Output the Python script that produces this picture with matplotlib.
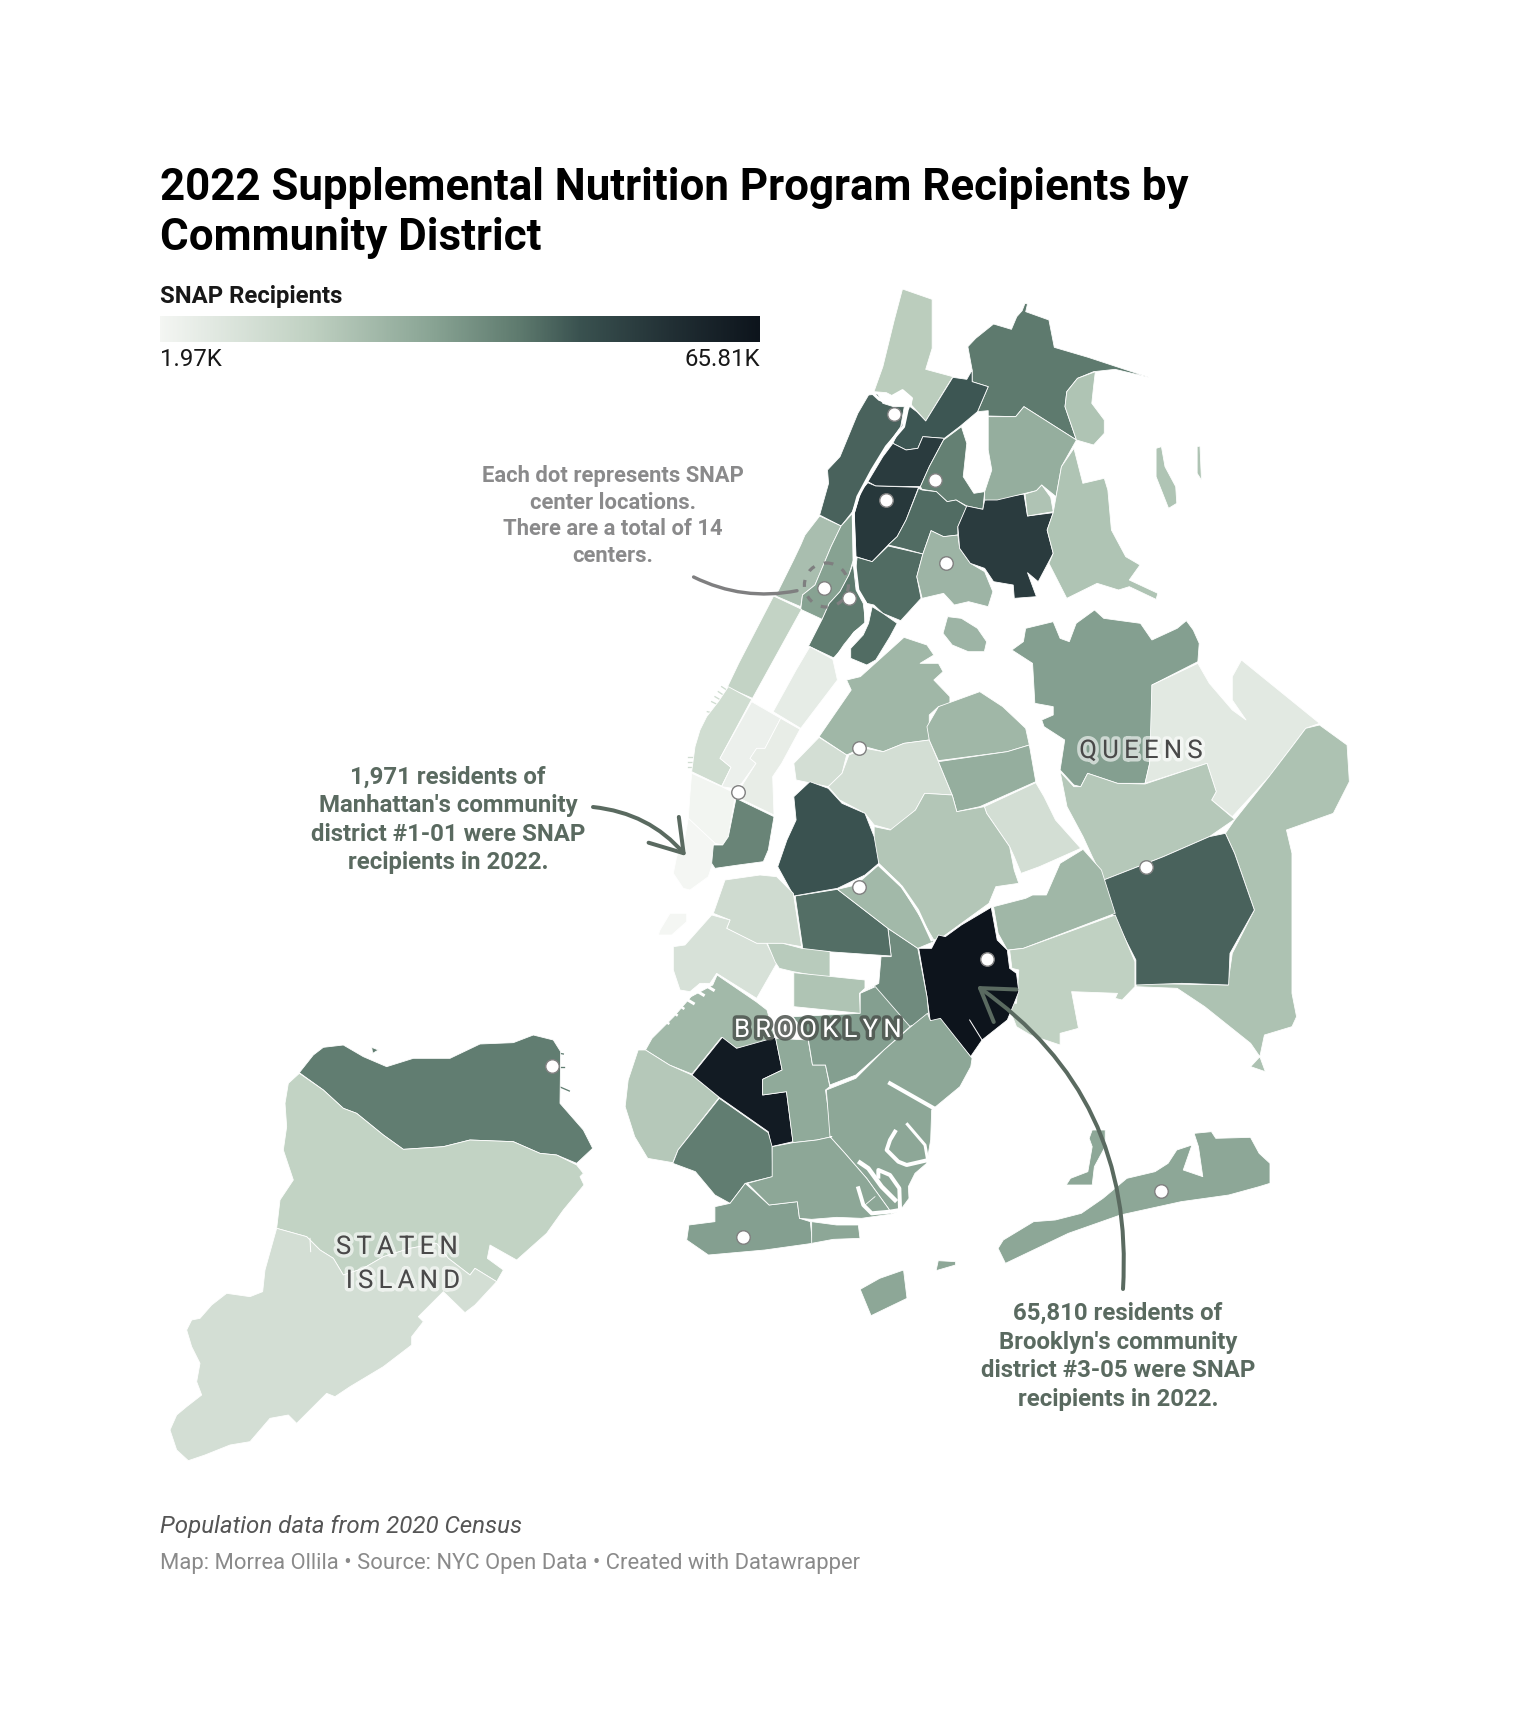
import matplotlib
matplotlib.use("Agg")
import matplotlib.pyplot as plt
import numpy as np
from matplotlib.colors import LinearSegmentedColormap, Normalize
from matplotlib.patches import Polygon, Circle, FancyArrowPatch
import matplotlib.patheffects as pe

plt.rcParams['font.family'] = ['Roboto', 'DejaVu Sans']

# --- outline tracing helpers: each district outline was traced on a crop of the map
def z1(p): return [(640 + x / 2.8, 270 + y / 3) for x, y in p]
def z2(p): return [(640 + x / 2.178, 600 + y / 3) for x, y in p]
def z3(p): return [(600 + x / 2.306, 950 + y / 3) for x, y in p]
def z4(p): return [(150 + x / 3, 1010 + y / 3) for x, y in p]
def z5(p): return [(810 + x / 3, 1080 + y / 3) for x, y in p]
def z6(p): return [(650 + x / 3, 680 + y / 3) for x, y in p]

district_names = []
district_values = []
district_shapes = []
def add(name, value, *parts):
    district_names.append(name)
    district_values.append(value)
    district_shapes.append(parts)

# --- Bronx
add("BX-08", 19200, z1([(735,57),(818,88),(818,235),(800,298),(876,320),(800,453),(760,405),(762,385),(735,360),(708,378),(690,368),(655,365),(680,290),(712,150)]))
add("BX-12", 40300, z1([(1080,125),(1145,150),(1160,232),(1255,262),(1425,322),(1330,298),(1270,305),(1225,325),(1195,365),(1190,410),(1222,510),(1075,410),(1052,440),(975,438),(975,422),(945,425),(975,350),(930,335),(930,300),(918,230),(940,205),(990,162),(1040,178),(1055,140),(1070,122),(1078,100),(1085,102)]))
add("BX-07", 46000, z1([(876,322),(915,328),(930,300),(930,335),(975,350),(945,425),(895,470),(852,505),(792,500),(778,535),(745,540),(708,520),(740,450),(750,405),(775,425),(800,453)]))
add("BX-05", 53000, z1([(852,505),(792,500),(778,535),(745,540),(708,520),(680,560),(638,635),(660,648),(785,650),(810,590)]))
add("BX-04", 54000, z1([(638,638),(660,648),(780,652),(745,750),(720,800),(695,825),(650,875),(605,860),(600,730),(620,660)]))
add("BX-06", 39000, z1([(850,510),(900,470),(915,520),(905,620),(935,670),(965,665),(960,718),(915,708),(885,690),(860,695),(830,665),(790,658),(785,650),(810,590)]))
add("BX-03", 42500, z1([(790,660),(830,665),(860,695),(885,690),(915,710),(890,770),(890,795),(850,800),(815,782),(792,852),(735,835),(695,825),(720,800),(745,750),(780,655)]))
add("BX-01", 42500, z1([(608,862),(650,875),(695,828),(792,852),(775,920),(787,985),(730,1052),(680,1030),(655,1005),(635,1000),(610,960),(600,930)]))
add("BX-02", 42500, z1([(650,1010),(680,1030),(720,1060),(700,1100),(660,1170),(635,1185),(590,1165),(590,1135),(625,1095),(640,1060)]))
add("BX-09a", 26200, z1([(815,782),(850,800),(890,795),(895,835),(925,880),(965,905),(988,965),(975,1010),(920,995),(880,1005),(850,970),(790,985),(775,920),(792,852)]))
add("BX-09", 53000, z1([(915,708),(960,718),(965,690),(1075,672),(1085,738),(1157,728),(1140,780),(1157,850),(1115,935),(1085,908),(1110,980),(1048,985),(1045,945),(990,935),(965,895),(925,880),(895,835),(890,770)]))
add("BX-11", 28100, z1([(975,440),(1052,440),(1075,410),(1222,510),(1180,590),(1165,680),(1125,645),(1110,662),(1000,690),(965,690),(965,665),(985,600),(975,540)]))
add("BX-11a", 22000, z1([(1078,672),(1110,662),(1125,645),(1150,682),(1157,725),(1085,738)]))
add("BX-10", 21800,
    z1([(1275,305),(1270,350),(1265,400),(1300,450),(1300,490),(1270,525),(1222,510),(1190,410),(1195,365),(1225,325)]),
    z1([(1215,535),(1240,640),(1300,625),(1310,660),(1320,780),(1360,860),(1400,885),(1370,930),(1450,970),(1445,988),(1370,950),(1340,960),(1280,940),(1195,985),(1145,880),(1157,850),(1140,780),(1157,728),(1165,680),(1180,590)]),
    z1([(1445,535),(1460,530),(1470,590),(1500,650),(1503,700),(1480,715),(1445,620)]),
    z1([(1560,530),(1568,528),(1572,630),(1560,610)]))
# --- Manhattan
add("MN-12", 44100, z1([(640,375),(665,372),(680,400),(710,410),(740,410),(730,470),(690,530),(650,600),(610,680),(595,725),(563,768),(503,735),(528,640),(525,600),(560,560),(610,430)]))
add("MN-09", 23500, z1([(503,738),(563,768),(535,830),(490,945),(455,975),(450,1010),(380,978),(430,870),(450,825),(462,795)]))
add("MN-10", 31300, z1([(595,730),(597,870),(585,915),(560,965),(530,1000),(510,1048),(450,1018),(455,975),(490,945),(535,830),(563,768)]))
add("MN-11", 40300, z1([(597,880),(605,960),(625,1000),(632,1060),(600,1085),(570,1125),(545,1165),(472,1128),(510,1048),(530,1000),(560,965),(585,915)]))
add("MN-07", 17000, z2([(291,-12),(352,28),(245,295),(190,262),(215,190)]))
add("MN-08", 6400, z2([(370,140),(420,178),(430,240),(350,385),(290,335),(340,210)]))
add("MN-04", 13000, z6([(235,20),(305,58),(210,235),(243,262),(215,318),(125,275),(135,200),(150,150),(170,110),(205,65)]))
add("MN-05", 4400, z6([(305,65),(392,115),(345,205),(320,205),(300,235),(318,250),(275,310),(248,325),(215,320),(243,262),(210,235)]))
add("MN-06", 5800, z6([(392,115),(450,148),(395,250),(368,290),(372,405),(258,350),(280,310),(318,250),(300,235),(320,205),(345,205)]))
add("MN-02", 2600, z6([(125,280),(215,320),(245,335),(255,350),(235,470),(218,495),(195,490),(115,415),(120,340)]))
add("MN-01", 1971,
    z6([(115,415),(195,490),(188,550),(175,590),(120,630),(100,625),(70,580),(80,530),(105,470)]),
    z6([(30,750),(60,700),(110,700),(110,725),(65,765),(25,765)]))
add("MN-03", 38000, z6([(258,355),(372,410),(355,510),(340,545),(265,555),(195,565),(185,550),(190,495),(218,495),(235,470)]))
# --- Queens
add("QN-01", 25600, z2([(575,112),(625,135),(640,165),(610,190),(650,190),(660,215),(640,240),(675,290),(675,312),(650,320),(630,345),(630,420),(575,430),(530,455),(490,440),(450,465),(390,410),(440,310),(460,270),(450,240),(480,230)]))
add("BX-01a", 26200, z2([(670,50),(700,55),(735,85),(755,125),(750,155),(715,155),(680,135),(660,100)]))
add("QN-02", 12200, z2([(390,412),(450,465),(440,520),(410,560),(340,540),(335,490)]))
add("QN-05a", 12200, z2([(455,465),(490,445),(530,455),(575,430),(630,420),(650,485),(680,585),(620,580),(600,630),(550,690),(510,675),(490,640),(435,600),(410,560),(440,520)]))
add("QN-03", 25600, z2([(650,320),(690,300),(740,275),(790,320),(840,385),(848,435),(800,455),(650,482),(630,420),(625,380)]))
add("QN-04", 28100, z2([(650,485),(800,455),(848,435),(862,545),(740,620),(690,635),(680,585)]))
add("QN-06", 12200, z2([(750,620),(862,548),(880,590),(905,660),(960,745),(870,800),(830,820),(815,770),(805,740),(755,640)]))
add("QN-05", 21100, z2([(510,680),(545,690),(600,630),(620,580),(680,585),(690,635),(750,620),(755,640),(805,740),(815,810),(825,850),(775,860),(760,910),(710,960),(660,1010),(640,1020),(610,950),(565,850),(520,790),(510,740)]))
add("QN-07", 32000, z2([(990,30),(1010,55),(1090,70),(1115,120),(1170,85),(1190,62),(1205,90),(1218,130),(1215,185),(1115,255),(1115,400),(1110,490),(1100,550),(1040,550),(975,520),(960,560),(945,555),(915,510),(925,420),(880,380),(875,360),(900,345),(900,320),(860,310),(855,190),(810,150),(835,125),(840,85),(900,65),(915,115),(935,125),(950,70)]))
add("QN-11", 7700, z2([(1215,190),(1240,250),(1290,330),(1320,360),(1290,300),(1290,230),(1310,180),(1480,370),(1450,385),(1420,440),(1370,530),(1290,650),(1245,600),(1255,575),(1235,490),(1100,550),(1110,490),(1115,255)]))
add("QN-08", 20500, z2([(915,515),(945,560),(960,560),(975,520),(1040,550),(1100,552),(1235,490),(1255,575),(1245,600),(1295,658),(1240,710),(1140,770),(1010,840),(985,770),(965,710),(930,620)]))
add("QN-13", 22400, z2([(1480,375),(1540,435),(1545,545),(1510,640),(1408,690),(1420,760),(1420,1180),(1430,1250),(1420,1280),(1360,1305),(1350,1370),(1362,1415),(1330,1400),(1350,1370),(1330,1330),(1230,1220),(1170,1165),(1080,1160),(1082,1150),(1280,1155),(1290,1060),(1338,930),(1295,760),(1275,700),(1295,660),(1370,530),(1420,440),(1450,385)]))
add("QN-12", 44100, z2([(1010,840),(1140,770),(1240,710),(1275,700),(1295,760),(1338,930),(1285,1060),(1282,1155),(1180,1150),(1080,1155),(1080,1080),(1030,945)]))
add("QN-09", 25600, z2([(965,748),(1005,810),(1035,940),(835,1045),(800,1050),(780,1000),(770,920),(840,895),(855,885),(885,885),(915,790)]))
add("QN-10", 17900, z2([(805,1050),(835,1045),(1035,945),(1078,1085),(1078,1160),(1050,1200),(1035,1195),(1040,1180),(940,1175),(955,1285),(915,1300),(915,1335),(850,1305),(820,1280),(800,1210),(820,1210),(825,1110),(810,1105)]))
add("QN-14", 30100,
    z3([(1370,550),(1410,545),(1420,565),(1500,562),(1520,610),(1545,640),(1545,700),(1520,710),(1450,735),(1340,755),(1200,795),(1080,850),(935,940),(918,895),(930,870),(1000,815),(1050,810),(1110,790),(1160,745),(1215,685),(1280,665),(1310,640),(1330,600),(1365,585),(1345,660),(1390,680),(1380,590)]),
    z3([(1135,540),(1165,540),(1165,590),(1140,650),(1135,705),(1075,705),(1085,685),(1125,665),(1135,590),(1128,565)]),
    z3([(780,932),(820,935),(820,945),(775,962)]),
    z3([(600,1018),(645,985),(700,960),(708,1045),(625,1097)]))
# --- Brooklyn
add("BK-05", 65810, z2([(607,1045),(635,1045),(650,1005),(665,1010),(700,975),(765,922),(778,1020),(800,1050),(805,1105),(820,1120),(825,1175),(815,1210),(800,1260),(745,1320),(720,1370),(660,1270),(632,1262),(625,1190)]))
add("BK-16", 36400, z2([(540,985),(605,1045),(625,1190),(630,1260),(585,1280),(510,1160),(480,1180),(520,1150),(525,1070),(547,1070)]))
add("BK-04", 42200, z2([(338,888),(430,868),(540,985),(547,1068),(355,1050)]))
add("BK-03a", 25000, z2([(430,868),(470,855),(520,795),(565,850),(610,950),(640,1025),(605,1045),(540,985)]))
add("BK-01", 46700, z2([(370,545),(410,565),(440,610),(490,640),(510,710),(520,790),(490,825),(430,865),(335,888),(300,800),(320,720),(340,660),(335,590)]))
add("BK-02", 13500, z6([(190,700),(225,600),(330,585),(380,590),(430,640),(455,800),(398,790),(350,790),(320,790),(260,760),(230,745),(240,720)]))
add("BK-06", 10900, z6([(105,795),(185,705),(240,720),(230,745),(260,760),(320,790),(350,790),(380,850),(320,955),(200,880),(180,910),(150,910),(120,935),(90,930),(70,870),(70,800)]))
add("BK-08", 19800, z6([(352,790),(398,790),(455,805),(540,815),(540,895),(430,875),(388,865),(375,845)]))
add("BK-09", 21800, z2([(335,1118),(490,1140),(490,1165),(478,1180),(480,1240),(335,1220)]))
add("BK-07", 25000, z3([(270,75),(360,155),(385,180),(405,270),(315,295),(280,262),(212,372),(160,345),(105,300),(120,265),(170,200),(210,140),(260,105)]))
add("BK-10", 20500, z3([(88,300),(105,300),(160,345),(212,375),(275,442),(180,600),(168,638),(110,625),(80,560),(58,470),(65,390)]))
add("BK-12", 63300, z3([(282,262),(315,295),(405,262),(420,360),(375,388),(375,435),(430,425),(445,575),(395,590),(388,545),(275,442),(212,375)]))
add("BK-11", 39600, z3([(275,445),(388,548),(397,590),(398,680),(335,700),(300,760),(265,735),(220,665),(168,640),(180,600)]))
add("BK-13", 32000, z3([(335,700),(390,765),(455,755),(460,805),(485,815),(490,880),(380,900),(250,915),(200,870),(205,825),(265,815),(265,770),(300,760)]))
add("BK-13a", 30100, z5([(5,425),(80,435),(145,435),(150,475),(70,478),(5,490)]))
add("BK-14", 29400, z3([(405,265),(480,270),(490,345),(520,345),(530,410),(520,420),(535,560),(500,570),(445,578),(430,425),(375,435),(375,388),(420,360)]))
add("BK-17", 32000, z3([(600,190),(600,130),(635,110),(715,230),(655,300),(590,375),(530,405),(520,345),(490,345),(480,265),(445,200)]))
add("BK-18", 30100, z3([(522,420),(590,385),(655,300),(715,232),(755,190),(762,212),(785,205),(858,325),(855,350),(830,410)]) + z5([(365,90),(362,180),(350,250),(315,280),(295,320),(297,355),(270,392),(245,402),(235,385),(170,295),(105,220),(60,170)]))
add("BK-15", 30100, z5([(60,170),(105,220),(170,295),(235,385),(245,402),(155,415),(80,412),(5,418)]) + z3([(460,805),(455,755),(390,765),(340,700),(397,680),(397,590),(445,578),(500,570),(535,560)]))
# --- Staten Island
add("SI-01", 39600,
    z4([(448,188),(490,135),(520,112),(580,105),(640,140),(710,170),(790,145),(900,145),(990,102),(1090,98),(1150,75),(1210,90),(1232,125),(1230,280),(1300,360),(1328,415),(1280,460),(1220,435),(1170,430),(1090,395),(960,390),(880,410),(760,418),(700,375),(620,310),(580,295),(520,240)]),
    z4([(665,112),(685,120),(668,130)]))
add("SI-02", 17300, z4([(448,190),(520,240),(580,295),(620,310),(700,375),(760,418),(880,410),(960,390),(1090,395),(1170,430),(1220,435),(1280,465),(1300,490),(1290,500),(1302,525),(1240,600),(1190,670),(1100,750),(1020,705),(1012,745),(1060,780),(1040,815),(975,775),(960,795),(895,745),(860,700),(780,715),(700,740),(640,775),(580,795),(550,745),(510,720),(470,680),(380,655),(390,570),(430,510),(400,420),(410,350),(405,280),(415,220)]))
add("SI-03", 12200, z4([(380,655),(470,680),(510,720),(550,745),(580,795),(640,775),(700,740),(780,715),(860,700),(895,745),(960,795),(975,775),(1040,815),(975,885),(945,908),(880,845),(805,920),(820,935),(785,980),(785,1005),(700,1070),(600,1130),(555,1160),(530,1150),(440,1240),(415,1215),(360,1225),(300,1295),(240,1305),(165,1335),(115,1352),(80,1320),(60,1260),(80,1215),(110,1190),(155,1155),(140,1115),(150,1060),(125,1010),(110,960),(125,930),(150,925),(185,885),(230,850),(300,860),(338,845),(345,780)]))

# --- waterways crossing the districts
waterways = [
    (z1([(650,368),(670,388),(695,398),(708,378),(735,362),(760,385),(748,420),(738,470),(690,530),(650,600),(610,680),(597,730),(600,870),(610,960),(632,1000),(632,1060),(600,1090),(575,1130),(545,1165)]), 3.0),
    (z2([(520,795),(570,860),(605,930),(635,1020)]), 2.4),
    (z5([(240,10),(372,85)]), 4.0),
    (z5([(255,155),(240,180),(230,210),(265,245),(290,255),(355,240)]), 4.0),
    (z5([(292,133),(345,195),(352,235)]), 3.0),
    (z5([(150,248),(175,265),(215,320),(255,360)]), 4.5),
    (z5([(205,290),(205,270),(240,285),(268,325),(270,385)]), 4.0),
    (z5([(145,325),(160,375),(185,400),(240,395),(270,390)]), 4.0),
    (z5([(195,350),(165,375)]), 0.8),
    (z2([(718,1260),(745,1320)]), 1.0),
    (z4([(480,685),(482,725)]), 1.0),
    (z6([(190,930),(165,915)]), 3.0),
    (z6([(160,945),(135,930)]), 3.0),
    (z6([(130,970),(105,955)]), 3.0),
    (z6([(100,985),(85,975)]), 2.5),
    (z6([(80,1005),(65,995)]), 2.5),
    (z6([(55,1030),(40,1020)]), 2.5),
]

# --- short piers, drawn in the colour of the district they belong to
piers = [
    ("MN-04", z6([(215,20),(230,30)])), ("MN-04", z6([(205,35),(220,45)])),
    ("MN-04", z6([(195,50),(212,60)])), ("MN-04", z6([(185,65),(205,75)])),
    ("MN-04", z6([(172,95),(192,100)])), ("MN-04", z6([(115,230),(135,230)])),
    ("MN-04", z6([(115,245),(135,245)])), ("MN-04", z6([(115,262),(130,262)])),
    ("SI-01", z4([(1230,130),(1240,132)])), ("SI-01", z4([(1225,172),(1242,172)])),
    ("SI-01", z4([(1228,230),(1258,243)])),
]

# --- SNAP centers
center_x = [893.6, 934.6, 886, 945.6, 824, 849.4, 859.4, 737.7, 859.4, 1145.8, 986.6, 1161.3, 743.2, 552]
center_y = [413.6, 480, 500, 563, 588.4, 598.4, 747.7, 792, 887, 867, 959, 1191, 1236.5, 1066]

# --- colour scale
scale_min = 1971
scale_max = 65810
scale_stops = [(0, "#f4f6f3"), (.25, "#c0d1c2"), (.45, "#8aa595"), (.6, "#5e7a6e"),
               (.7, "#3a5250"), (.85, "#223035"), (1, "#0d141c")]

title_text = "2022 Supplemental Nutrition Program Recipients by\nCommunity District"
legend_title = "SNAP Recipients"
legend_low = "1.97K"
legend_high = "65.81K"
note_dots = "Each dot represents SNAP\ncenter locations.\nThere are a total of 14\ncenters."
note_low = "1,971 residents of\nManhattan's community\ndistrict #1-01 were SNAP\nrecipients in 2022."
note_high = "65,810 residents of\nBrooklyn's community\ndistrict #3-05 were SNAP\nrecipients in 2022."
footnote = "Population data from 2020 Census"
credit = "Map: Morrea Ollila • Source: NYC Open Data • Created with Datawrapper"

cmap = LinearSegmentedColormap.from_list("snap", scale_stops, N=512)
norm = Normalize(scale_min, scale_max)

W, H = 1520, 1734
fig = plt.figure(figsize=(W / 100, H / 100), dpi=100, facecolor="white")
ax = fig.add_axes([0, 0, 1, 1])
ax.set_xlim(0, W)
ax.set_ylim(H, 0)
ax.axis("off")
px = 72 / 100  # one pixel in points

value_of = dict(zip(district_names, district_values))
for name, pts in piers:
    xs, ys = zip(*pts)
    ax.plot(xs, ys, color=cmap(norm(value_of[name])), lw=1.3 * px, zorder=1)
for name, value, parts in zip(district_names, district_values, district_shapes):
    for part in parts:
        ax.add_patch(Polygon(part, closed=True, facecolor=cmap(norm(value)),
                             edgecolor="white", linewidth=0.8 * px, joinstyle="round", zorder=2))
for pts, width in waterways:
    xs, ys = zip(*pts)
    ax.plot(xs, ys, color="white", lw=width * px, solid_joinstyle="round", zorder=3)

# dashed ring and connector for the dots note
note_grey = "#7f7f80"
ax.add_patch(Circle((826.4, 585), 22, fill=False, edgecolor=note_grey, lw=3.2 * px,
                    linestyle=(0, (2.2, 3.1)), zorder=4))
ax.add_patch(FancyArrowPatch((693.6, 577), (797, 590.7), connectionstyle="arc3,rad=0.17",
                             arrowstyle="-", color=note_grey, lw=3.4 * px, zorder=4,
                             shrinkA=0, shrinkB=0))

ax.scatter(center_x, center_y, s=(13.5 * px) ** 2, facecolor="white", edgecolor="#808080",
           linewidth=1.4 * px, zorder=6)

note_dark = "#5a6a60"
ax.add_patch(FancyArrowPatch((593, 807), (686, 856), connectionstyle="arc3,rad=-0.2",
                             arrowstyle="->,head_length=8.5,head_width=5.5", color=note_dark,
                             lw=4 * px, zorder=5, shrinkA=0, shrinkB=0, mutation_scale=2.6))
ax.add_patch(FancyArrowPatch((1123, 1289), (977, 986), connectionstyle="arc3,rad=0.28",
                             arrowstyle="->,head_length=8.5,head_width=5.5", color=note_dark,
                             lw=4 * px, zorder=5, shrinkA=0, shrinkB=0, mutation_scale=2.6))

# place labels
def spaced(s):
    return "\u200a\u200a".join(s)
light_halo = [pe.withStroke(linewidth=7 * px, foreground=(1, 1, 1, .6))]
dark_halo = [pe.withStroke(linewidth=7 * px, foreground=(.30, .33, .31, .85))]
for label, x, y, colour, halo in [("QUEENS", 1141, 751, "#494949", light_halo),
                                  ("BROOKLYN", 818, 1030, "#ffffff", dark_halo),
                                  ("STATEN", 397, 1247, "#494949", light_halo),
                                  ("ISLAND", 403, 1281, "#494949", light_halo)]:
    ax.text(x, y, spaced(label), ha="center", va="center", fontsize=25.7 * px, color=colour,
            path_effects=halo, zorder=7)

ax.text(160, 167, title_text, fontsize=43.9 * px, fontweight="bold", color="#000000", va="top",
        linespacing=1.23, zorder=8)
ax.text(160, 296, legend_title, fontsize=23.9 * px, fontweight="bold", color="#181818",
        va="center", zorder=8)
ax.text(160, 360, legend_low, fontsize=24 * px, color="#181818", va="center", ha="left")
ax.text(760, 360, legend_high, fontsize=24 * px, color="#181818", va="center", ha="right")

ax_bar = fig.add_axes([160 / W, 1 - 342 / H, 600 / W, 26 / H])
ax_bar.imshow(np.linspace(scale_min, scale_max, 600)[None, :], aspect="auto", cmap=cmap, norm=norm)
ax_bar.axis("off")

ax.text(612.5, 516, note_dots, fontsize=22 * px, fontweight="bold", color="#8a8a8b",
        ha="center", va="center", linespacing=1.27, zorder=8)
ax.text(448, 820, note_low, fontsize=24 * px, fontweight="bold", color=note_dark,
        ha="center", va="center", linespacing=1.31, zorder=8)
ax.text(1118, 1356.5, note_high, fontsize=24 * px, fontweight="bold", color=note_dark,
        ha="center", va="center", linespacing=1.31, zorder=8)

ax.text(160, 1526, footnote, fontsize=24.1 * px, style="italic", color="#555555", va="center")
ax.text(160, 1563, credit, fontsize=22 * px, color="#8a8a8a", va="center")

fig.savefig("out.png", dpi=100, facecolor="white")
